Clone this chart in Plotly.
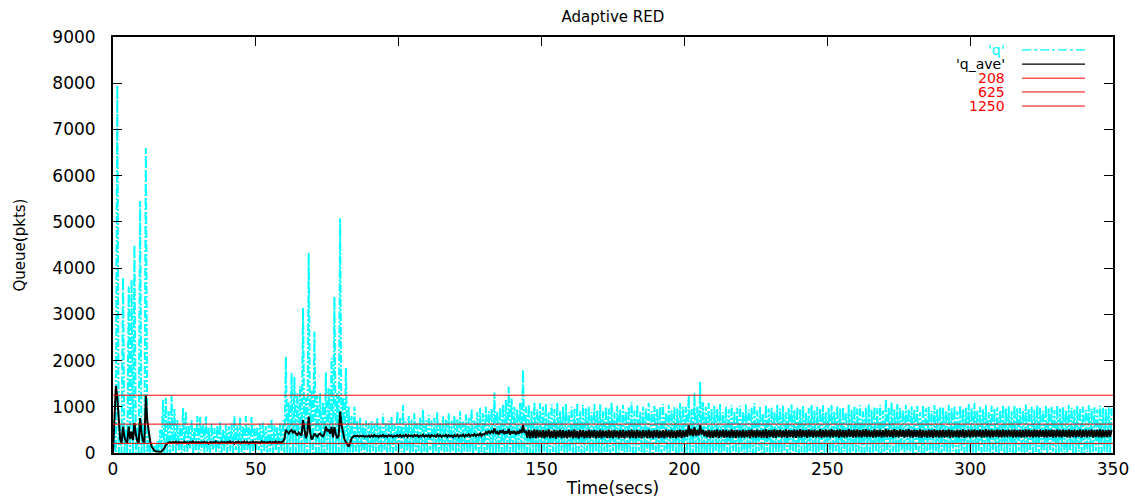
import plotly.graph_objects as go

# ---------------- data ----------------
# 'q' : local peak values, one per second, located at t = i + 0.5
q_peak = [
    400, 7950, 600, 3800, 500, 3600, 3750, 4500, 550, 5450,
    600, 6600, 400, 200, 150, 250, 500, 1150, 1190, 900,
    1240, 950, 714, 600, 970, 895, 600, 714, 560, 800,
    780, 620, 790, 560, 650, 540, 600, 680, 520, 620,
    580, 640, 800, 600, 760, 580, 800, 620, 780, 600,
    560, 640, 660, 580, 620, 740, 600, 560, 650, 700,
    2085, 1100, 1730, 1650, 1300, 1450, 3140, 1200, 4330, 1350,
    2630, 1250, 1300, 1100, 1740, 1400, 2050, 3380, 1300, 5080,
    1200, 1840, 1000, 800, 1000, 700, 760, 620, 700, 650,
    700, 640, 760, 600, 850, 650, 700, 780, 620, 900,
    750, 1040, 680, 800, 720, 860, 650, 780, 930, 700,
    820, 700, 760, 880, 650, 790, 720, 860, 700, 800,
    740, 900, 680, 830, 760, 950, 700, 880, 980, 860,
    1000, 900, 960, 1310, 900, 980, 1050, 1150, 1435, 1180,
    1000, 950, 1080, 1800, 1000, 1050, 900, 1100, 950, 1080,
    1000, 1070, 880, 1050, 950, 1090, 900, 1000, 1060, 880,
    1000, 950, 1080, 900, 1040, 960, 1000, 880, 1060, 920,
    1050, 900, 1000, 960, 1090, 880, 1020, 950, 1040, 900,
    1000, 1100, 920, 1050, 880, 1000, 960, 1080, 900, 1020,
    950, 1000, 1060, 880, 1040, 920, 1000, 960, 1080, 1000,
    1000, 1255, 950, 1300, 1000, 1545, 1100, 1000, 1080, 950,
    1020, 960, 1060, 880, 1000, 940, 1040, 900, 980, 1020,
    880, 1050, 940, 980, 1080, 920, 1000, 860, 1040, 960,
    980, 900, 1040, 960, 1020, 880, 980, 1050, 930, 1000,
    940, 1020, 880, 980, 1040, 920, 1000, 960, 1030, 880,
    980, 1040, 900, 1020, 960, 990, 880, 1050, 940, 1010,
    960, 1030, 900, 980, 1060, 930, 1000, 970, 1040, 920,
    1160, 980, 1100, 940, 1060, 980, 920, 1040, 960, 1010,
    940, 1020, 880, 1040, 970, 1000, 910, 1030, 950, 990,
    980, 920, 1040, 960, 1010, 900, 1030, 950, 980, 1060,
    970, 1080, 920, 1000, 940, 1030, 880, 1020, 960, 990,
    930, 1040, 960, 1010, 900, 1030, 970, 980, 920, 1050,
    960, 1000, 940, 1030, 980, 910, 1040, 970, 1000, 930,
    1020, 960, 990, 920, 1040, 980, 940, 1020, 970, 1000,
    930, 1030, 960, 990, 940, 1020, 980, 950, 1010, 970,
]
# 'q' : local troughs, one per second, located at t = i
q_trough = [
    0, 0, 0, 0, 0, 0, 0, 0, 0, 0,
    0, 0, 0, 0, 0, 0, 0, 0, 0, 0,
    0, 40, 0, 60, 0, 30, 0, 80, 0, 40,
    0, 50, 0, 20, 0, 70, 0, 30, 0, 50,
    0, 40, 0, 60, 0, 20, 0, 50, 0, 30,
    0, 60, 0, 40, 0, 20, 0, 50, 0, 40,
    0, 0, 0, 0, 0, 0, 0, 0, 0, 0,
    0, 0, 0, 0, 0, 0, 0, 0, 0, 0,
    0, 0, 0, 0, 0, 30, 0, 50, 0, 20,
    0, 40, 0, 30, 0, 60, 0, 20, 0, 40,
    0, 30, 0, 50, 0, 20, 0, 40, 0, 30,
    0, 60, 0, 20, 0, 40, 0, 30, 0, 50,
    0, 20, 0, 40, 0, 30, 0, 50, 0, 20,
    0, 0, 0, 0, 0, 0, 0, 0, 0, 0,
    0, 0, 0, 0, 0, 0, 0, 0, 0, 0,
    0, 30, 0, 0, 20, 0, 0, 40, 0, 0,
    30, 0, 0, 20, 0, 0, 40, 0, 0, 30,
    0, 0, 20, 0, 0, 40, 0, 0, 30, 0,
    0, 20, 0, 0, 40, 0, 0, 30, 0, 0,
    20, 0, 0, 40, 0, 0, 30, 0, 0, 20,
    0, 0, 0, 0, 0, 0, 0, 0, 0, 0,
    0, 30, 0, 0, 20, 0, 0, 40, 0, 0,
    30, 0, 0, 20, 0, 0, 40, 0, 0, 30,
    0, 0, 20, 0, 0, 40, 0, 0, 30, 0,
    0, 20, 0, 0, 40, 0, 0, 30, 0, 0,
    20, 0, 0, 40, 0, 0, 30, 0, 0, 20,
    0, 30, 0, 0, 20, 0, 0, 40, 0, 0,
    30, 0, 0, 20, 0, 0, 40, 0, 0, 30,
    0, 0, 20, 0, 0, 40, 0, 0, 30, 0,
    0, 20, 0, 0, 40, 0, 0, 30, 0, 0,
    20, 0, 0, 40, 0, 0, 30, 0, 0, 20,
    0, 30, 0, 0, 20, 0, 0, 40, 0, 0,
    30, 0, 0, 20, 0, 0, 40, 0, 0, 30,
    0, 0, 20, 0, 0, 40, 0, 0, 30, 0,
    0, 20, 0, 0, 40, 0, 0, 30, 0, 0,
]
# 'q_ave' : sampled every 0.5 s starting at t = 0
q_ave = [
    0, 600, 1450, 1200, 600, 300, 220, 570, 350, 250, 230, 570, 300, 460, 280, 650, 400, 260, 220, 755,
    420, 260, 230, 1240, 700, 430, 260, 137, 90, 50, 38, 30, 28, 28, 30, 60, 108, 170, 210, 223,
    235, 215, 240, 220, 245, 210, 240, 225, 230, 215, 245, 220, 235, 205, 240, 225, 250, 215, 235, 220,
    240, 210, 235, 225, 245, 215, 230, 205, 240, 225, 235, 215, 250, 220, 230, 210, 245, 225, 235, 215,
    240, 220, 250, 215, 235, 200, 240, 225, 245, 210, 235, 225, 250, 215, 240, 205, 235, 220, 245, 215,
    240, 225, 235, 210, 250, 220, 240, 215, 235, 225, 245, 210, 240, 220, 250, 215, 240, 225, 245, 250,
    300, 500, 460, 420, 470, 500, 430, 480, 420, 390, 440, 400, 380, 714, 450, 320, 420, 786, 450, 290,
    340, 420, 380, 350, 400, 420, 380, 360, 420, 570, 480, 500, 420, 570, 340, 560, 400, 320, 380, 895,
    600, 400, 300, 240, 180, 137, 220, 318, 350, 370, 360, 375, 355, 370, 360, 375, 350, 365, 355, 375,
    350, 380, 355, 385, 360, 375, 345, 380, 360, 390, 355, 375, 350, 385, 365, 380, 345, 375, 360, 385,
    355, 390, 350, 380, 360, 395, 345, 385, 360, 380, 350, 390, 365, 385, 345, 380, 360, 395, 350, 380,
    360, 390, 345, 385, 365, 380, 350, 395, 360, 385, 345, 380, 365, 390, 350, 385, 360, 380, 345, 390,
    360, 395, 350, 385, 365, 400, 355, 390, 370, 405, 360, 395, 375, 410, 365, 400, 380, 420, 370, 410,
    400, 450, 420, 480, 430, 470, 440, 534, 420, 460, 400, 490, 430, 500, 410, 470, 420, 520, 400, 470,
    420, 480, 400, 460, 420, 500, 430, 606, 440, 480, 330, 500, 320, 490, 330, 510, 320, 500, 340, 490,
    330, 500, 320, 490, 340, 510, 320, 480, 330, 500, 310, 490, 340, 505, 320, 495, 330, 480, 320, 500,
    340, 490, 320, 510, 330, 480, 310, 500, 340, 495, 320, 485, 330, 505, 320, 490, 340, 500, 315, 485,
    330, 500, 320, 490, 340, 480, 325, 505, 330, 490, 320, 500, 340, 485, 320, 495, 330, 500, 320, 480,
    340, 495, 320, 505, 330, 490, 315, 500, 335, 485, 320, 500, 340, 490, 325, 505, 330, 480, 320, 495,
    340, 500, 320, 485, 330, 495, 320, 505, 340, 490, 325, 500, 330, 480, 320, 495, 340, 505, 320, 490,
    340, 500, 350, 600, 380, 520, 360, 560, 370, 500, 380, 600, 400, 500, 360, 480, 340, 500, 330, 490,
    330, 495, 340, 510, 325, 490, 345, 505, 330, 500, 340, 485, 330, 510, 335, 495, 325, 500, 340, 490,
    335, 505, 330, 490, 345, 500, 325, 510, 340, 495, 330, 505, 345, 490, 330, 500, 335, 515, 325, 495,
    345, 500, 335, 510, 330, 495, 350, 505, 335, 490, 340, 510, 330, 500, 345, 495, 335, 505, 330, 500,
    340, 515, 335, 500, 345, 495, 330, 510, 350, 500, 335, 505, 340, 490, 345, 515, 330, 500, 340, 505,
    345, 500, 335, 515, 340, 495, 350, 505, 330, 510, 345, 500, 335, 495, 340, 515, 350, 500, 335, 505,
    340, 510, 345, 495, 335, 505, 350, 515, 340, 500, 345, 490, 335, 510, 340, 500, 350, 505, 335, 495,
    345, 520, 340, 505, 350, 500, 335, 515, 345, 495, 340, 510, 350, 500, 335, 505, 345, 515, 340, 500,
    335, 505, 345, 495, 340, 510, 330, 500, 345, 490, 335, 505, 340, 500, 330, 510, 345, 495, 335, 500,
    340, 505, 335, 495, 345, 510, 330, 500, 340, 490, 345, 505, 335, 500, 340, 510, 330, 495, 345, 505,
    335, 500, 345, 510, 340, 495, 350, 505, 335, 500, 340, 515, 345, 500, 335, 505, 340, 495, 350, 510,
    340, 500, 335, 510, 345, 495, 340, 505, 350, 500, 335, 510, 340, 495, 345, 505, 335, 500, 340, 510,
    345, 505, 340, 495, 335, 510, 345, 500, 340, 505, 350, 495, 335, 510, 340, 500, 345, 505, 335, 500,
    340, 510, 345, 500, 335, 505, 350, 495, 340, 510, 335, 500, 345, 505, 340, 495, 350, 510, 335, 500,
    345, 505, 340, 500, 350, 510, 335, 495, 345, 505, 340, 510, 335, 500, 345, 495, 340, 505, 350, 500,
]
thresholds = [208, 625, 1250]
threshold_names = ["208", "625", "1250"]
x_range = [0, 350]
y_range = [0, 9000]
x_ticks = [0, 50, 100, 150, 200, 250, 300, 350]
y_ticks = [0, 1000, 2000, 3000, 4000, 5000, 6000, 7000, 8000, 9000]

# ---------------- build series ----------------
q_x, q_y = [], []
for i, (lo, hi) in enumerate(zip(q_trough, q_peak)):
    q_x += [i, i + 0.5]
    q_y += [lo, hi]
qa_x = [j * 0.5 for j in range(len(q_ave))]

CYAN = "#00ffff"
RED = "#ff0000"
FONT = "DejaVu Sans"

fig = go.Figure()
fig.add_trace(go.Scatter(x=q_x, y=q_y, mode="lines", name="'q'",
                         line=dict(color=CYAN, width=2, dash="8px,2px,2px,2px"),
                         showlegend=False, hoverinfo="skip"))
fig.add_trace(go.Scatter(x=qa_x, y=q_ave, mode="lines", name="'q_ave'",
                         line=dict(color="black", width=2),
                         showlegend=False, hoverinfo="skip"))
for v, nm in zip(thresholds, threshold_names):
    fig.add_trace(go.Scatter(x=x_range, y=[v, v], mode="lines", name=nm,
                             line=dict(color=RED, width=1),
                             showlegend=False, hoverinfo="skip"))

# ---------------- gnuplot-style key ----------------
key_entries = [("'q'", CYAN, "dashdot", 1.2),
               ("'q_ave'", "black", "solid", 1.2),
               ("208", RED, "solid", 1),
               ("625", RED, "solid", 1),
               ("1250", RED, "solid", 1)]
row_y = [0.969, 0.935, 0.901, 0.868, 0.834]
for (label, col, dash, w), yy in zip(key_entries, row_y):
    fig.add_annotation(x=0.894, y=yy, xref="paper", yref="paper", text=label,
                       showarrow=False, xanchor="right", yanchor="middle",
                       font=dict(family=FONT, size=14, color=col))
    fig.add_shape(type="line", xref="paper", yref="paper", x0=0.909, x1=0.972,
                  y0=yy, y1=yy, line=dict(color=col, width=w, dash=dash))

axis_common = dict(showline=True, linecolor="black", linewidth=2, mirror="ticks",
                   ticks="inside", ticklen=9, tickwidth=1, tickcolor="black",
                   showgrid=False, zeroline=False, automargin=False,
                   ticklabeloverflow="allow",
                   tickfont=dict(family=FONT, size=17, color="black"))

fig.update_layout(
    template="none",
    width=1135, height=500,
    margin=dict(l=113, r=22, t=37, b=47, autoexpand=False),
    paper_bgcolor="white", plot_bgcolor="white",
    title=dict(text="Adaptive RED", x=0.54, xanchor="center", y=0.966, yanchor="middle",
               font=dict(family=FONT, size=15, color="black")),
    xaxis=dict(range=x_range, tickvals=x_ticks, ticklabelstandoff=0,
               title=dict(text="Time(secs)", standoff=4,
                          font=dict(family=FONT, size=17, color="black")),
               **axis_common),
    yaxis=dict(range=y_range, tickvals=y_ticks, ticklabelstandoff=12,
               title=dict(text="Queue(pkts)", standoff=23,
                          font=dict(family=FONT, size=15, color="black")),
               **axis_common),
)

# remove the default 8 px body margin so the 1135x500 figure fills the window
fig.write_html("out.html",
               config={"displayModeBar": False},
               post_script="document.body.style.margin='0px';"
                           "document.body.style.overflow='hidden';")
